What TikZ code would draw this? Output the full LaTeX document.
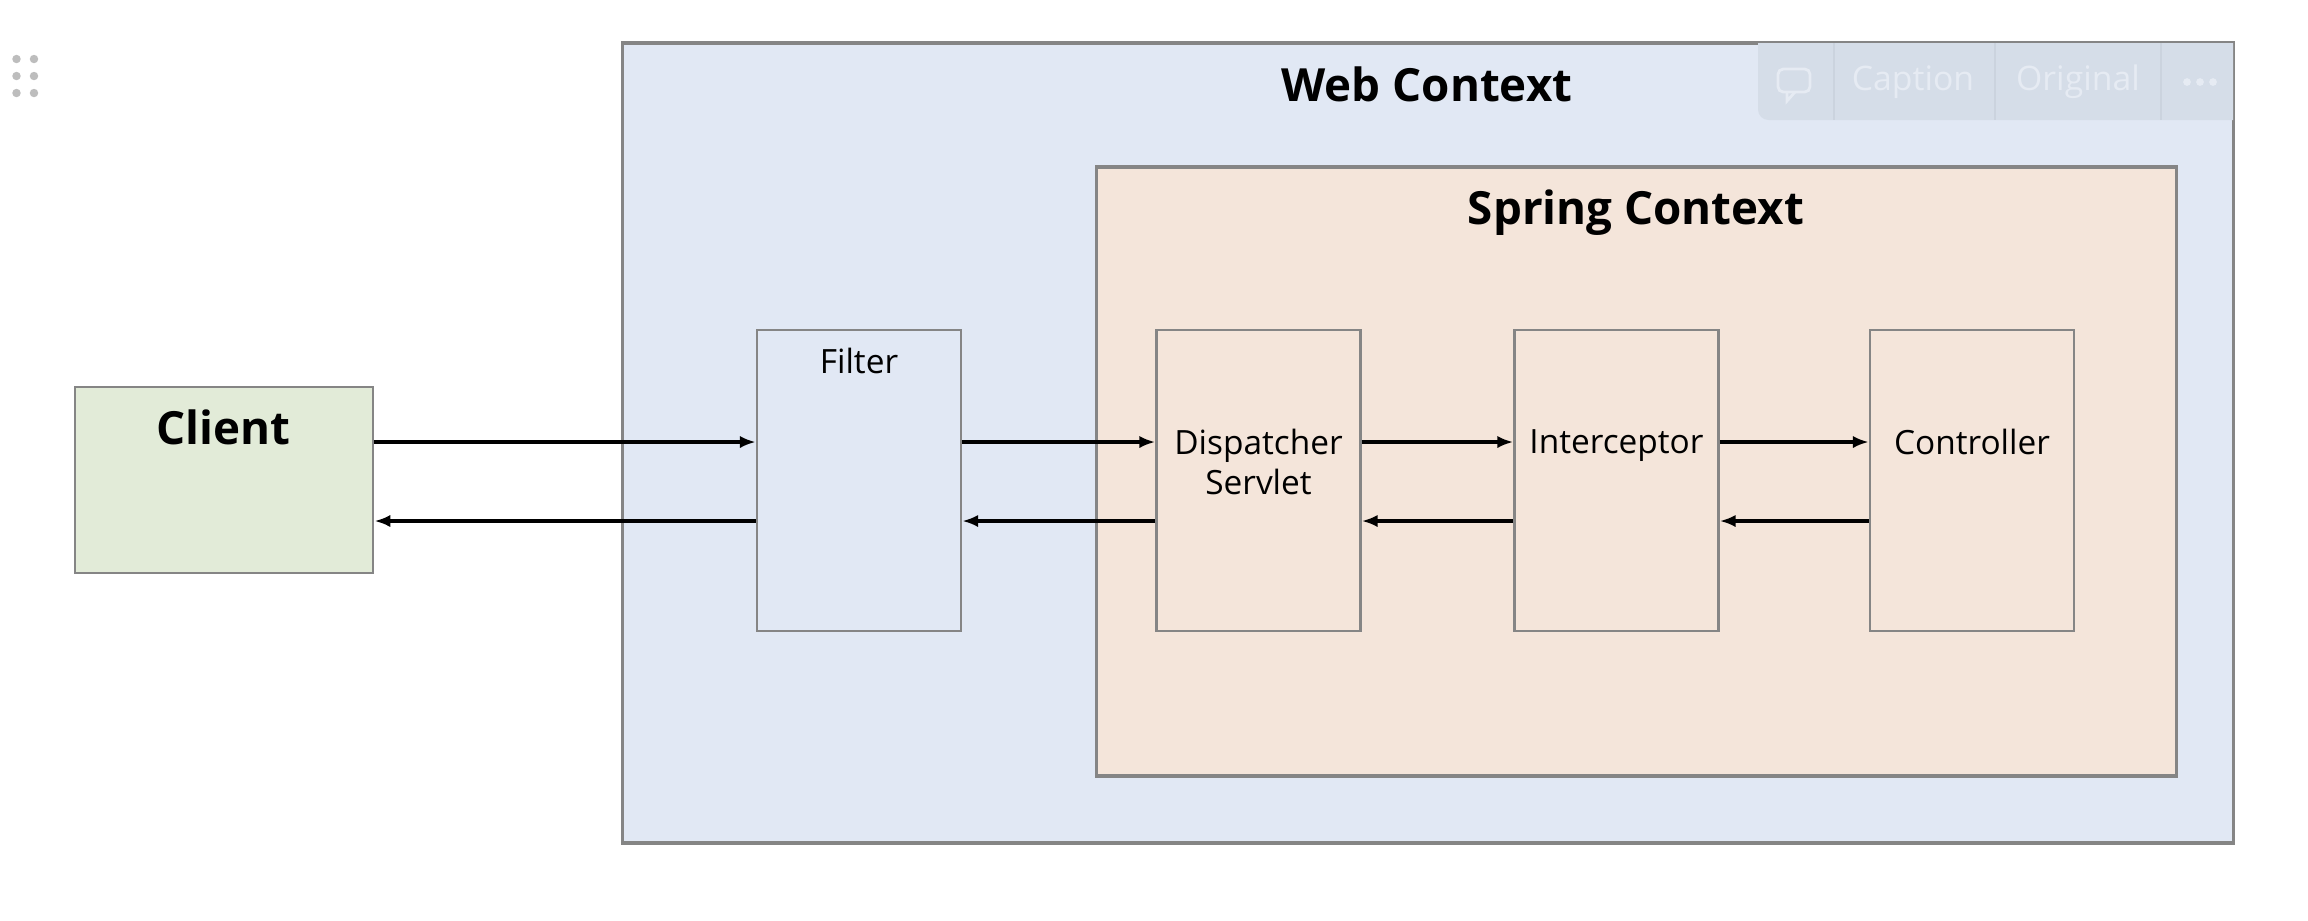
\documentclass[tikz,border=0pt]{standalone}
\usepackage{fontspec}
\setmainfont{Open Sans}
\usetikzlibrary{arrows.meta}

\definecolor{webfill}{HTML}{E1E8F4}
\definecolor{springfill}{HTML}{F4E5DA}
\definecolor{clientfill}{HTML}{E2EBD8}
\definecolor{boxgray}{HTML}{858585}
\definecolor{barfill}{HTML}{D5DDE8}
\definecolor{barline}{HTML}{CBD3DE}
\definecolor{bartext}{HTML}{E6EBF3}
\definecolor{gripgray}{HTML}{BDBDBD}

\begin{document}
\begin{tikzpicture}[x=0.01cm,y=-0.01cm]
\tikzstyle{every node}+=[inner sep=0pt]
\tikzstyle{ctx}=[draw=boxgray, line width=1pt]
\tikzstyle{comp}=[draw=boxgray, line width=0.7pt, minimum width=2.04cm, minimum height=3.01cm]
\tikzstyle{title}=[font=\fontsize{13}{15}\selectfont\bfseries]
\tikzstyle{lbl}=[font=\fontsize{9.5}{11.4}\selectfont, align=center, text depth=0pt]
\tikzstyle{flow}=[line width=0.9pt, -{Latex[length=4.5pt,width=3.5pt]}]
\tikzstyle{bartxt}=[text=bartext, font=\fontsize{9.6}{11}\selectfont]
\useasboundingbox (0,0) rectangle (2308,920);
\fill [white] (0,0) rectangle (2308,920);
% grip dots
\fill [gripgray] (16.5,59) circle (1.2pt);
\fill [gripgray] (34,59) circle (1.2pt);
\fill [gripgray] (16.5,76) circle (1.2pt);
\fill [gripgray] (34,76) circle (1.2pt);
\fill [gripgray] (16.5,93) circle (1.2pt);
\fill [gripgray] (34,93) circle (1.2pt);
% contexts
\node [ctx, fill=webfill, minimum width=16.1cm, minimum height=8cm] (web) at (1428,443) {};
\node [title] (webtitle) at (1427,84) {Web Context};
\node [ctx, fill=springfill, minimum width=10.79cm, minimum height=6.09cm] (spring) at (1636.5,471.5) {};
\node [title] (springtitle) at (1636,213) {Spring Context};
% components
\node [ctx, line width=0.8pt, fill=clientfill, minimum width=2.98cm, minimum height=1.86cm] (client) at (224,480) {};
\node [title] (clienttitle) at (223,427) {Client};
\node [comp, fill=webfill] (filter) at (859,480.5) {};
\node [lbl] (filterlbl) at (859,361) {Filter};
\node [comp, fill=springfill] (disp) at (1258.5,480.5) {};
\node [lbl] (displbl) at (1258.5,462) {Dispatcher\\Servlet};
\node [comp, fill=springfill] (icpt) at (1616.5,480.5) {};
\node [lbl] (icptlbl) at (1616.5,442) {Interceptor};
\node [comp, fill=springfill] (ctrl) at (1972,480.5) {};
\node [lbl] (ctrllbl) at (1972,442) {Controller};
% request / response
\coordinate (fwd) at (0,442);
\coordinate (back) at (0,521);
\draw [flow] (client.east |- fwd) -- (filter.west |- fwd);
\draw [flow] (filter.west |- back) -- (client.east |- back);
\draw [flow] (filter.east |- fwd) -- (disp.west |- fwd);
\draw [flow] (disp.west |- back) -- (filter.east |- back);
\draw [flow] (disp.east |- fwd) -- (icpt.west |- fwd);
\draw [flow] (icpt.west |- back) -- (disp.east |- back);
\draw [flow] (icpt.east |- fwd) -- (ctrl.west |- fwd);
\draw [flow] (ctrl.west |- back) -- (icpt.east |- back);
% toolbar overlay
\fill [barfill] (2233,43) -- (1758,43) [rounded corners=3pt] -- (1758,120) [sharp corners] -- (2233,120) -- cycle;
\draw [barline] (1834,43) -- (1834,120);
\draw [barline] (1995,43) -- (1995,120);
\draw [barline] (2161,43) -- (2161,120);
\draw [bartext, line width=0.8pt, rounded corners=1.5pt] (1778,69) rectangle (1810,92);
\draw [bartext, line width=0.8pt] (1787,92) -- (1787,101) -- (1795,92);
\node [bartxt] (captionbtn) at (1913,82) {Caption};
\node [bartxt] (originalbtn) at (2078,82) {Original};
\fill [bartext] (2187,82) circle (1.1pt);
\fill [bartext] (2200,82) circle (1.1pt);
\fill [bartext] (2213,82) circle (1.1pt);
\end{tikzpicture}
\end{document}
